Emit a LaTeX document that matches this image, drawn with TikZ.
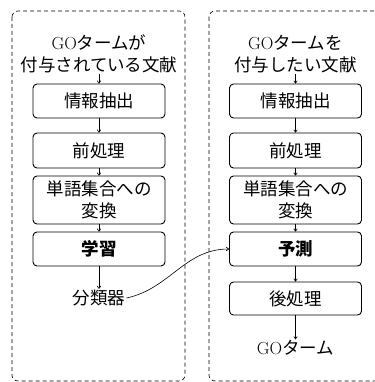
\documentclass[tikz,border=0pt]{standalone}
\usepackage{fontspec}
\newfontfamily\jp{Noto Sans CJK JP}
\usetikzlibrary{arrows.meta}
\tikzset{
  panel/.style={draw, dashed, dash pattern=on 4pt off 3pt, rounded corners=6pt, line width=0.6pt},
  stepbox/.style={draw, rounded corners=4pt, line width=0.9pt, minimum width=132pt, inner sep=0pt, align=center, font=\jp},
  lbl/.style={align=center, inner sep=1pt, font=\jp},
  arr/.style={-{To[length=3pt,width=4pt]}, line width=0.6pt},
}
\begin{document}
\begin{tikzpicture}[x=1pt,y=1pt]
\fontsize{17.5}{22}\selectfont
\useasboundingbox (0,0) rectangle (374,-382);
% panels
\draw[panel] (12,-11) rectangle (185,-381);
\draw[panel] (209,-11) rectangle (380,-381);
% left column
\node[lbl] (lt) at (99,-54) {{\rmfamily GO}タームが\\付与されている文献};
\node[stepbox, minimum height=34pt] (l1) at (99,-101) {情報抽出};
\node[stepbox, minimum height=35pt] (l2) at (99,-150.5) {前処理};
\node[stepbox, minimum height=48pt] (l3) at (99,-200) {単語集合への\\変換};
\node[stepbox, minimum height=34pt] (l4) at (99,-249) {\bfseries 学習};
\node[lbl] (lc) at (99,-298) {分類器};
% right column
\node[lbl] (rt) at (295.5,-54) {{\rmfamily GO}タームを\\付与したい文献};
\node[stepbox, minimum height=34pt] (r1) at (295.5,-101) {情報抽出};
\node[stepbox, minimum height=35pt] (r2) at (295.5,-150.5) {前処理};
\node[stepbox, minimum height=48pt] (r3) at (295.5,-200) {単語集合への\\変換};
\node[stepbox, minimum height=34pt] (r4) at (295.5,-249) {\bfseries 予測};
\node[stepbox, minimum height=33pt] (r5) at (295.5,-298.5) {後処理};
\node[lbl] (rg) at (295.5,-348) {{\rmfamily GO}ターム};
% arrows
\draw[arr] (lt) -- (l1);
\draw[arr] (l1) -- (l2);
\draw[arr] (l2) -- (l3);
\draw[arr] (l3) -- (l4);
\draw[arr] (l4) -- (lc);
\draw[arr] (rt) -- (r1);
\draw[arr] (r1) -- (r2);
\draw[arr] (r2) -- (r3);
\draw[arr] (r3) -- (r4);
\draw[arr] (r4) -- (r5);
\draw[arr] (r5) -- (rg);
\draw[arr] (lc.east) to[out=12,in=180] (r4.west);
\end{tikzpicture}
\end{document}
